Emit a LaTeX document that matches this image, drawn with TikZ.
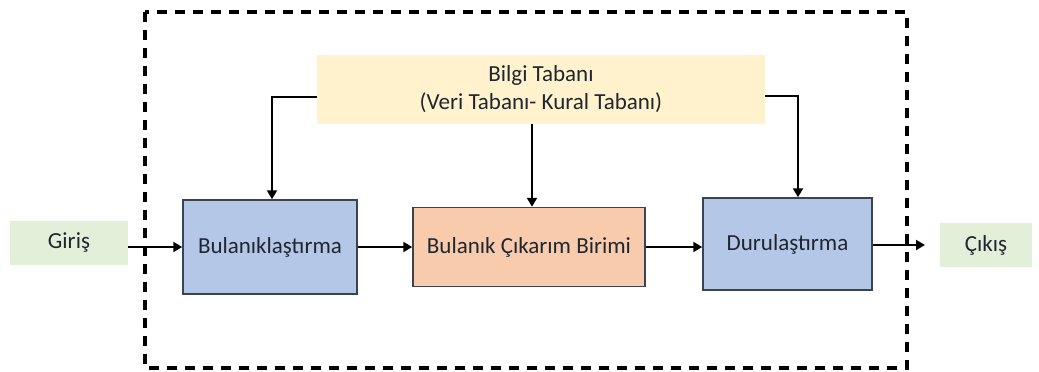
\documentclass[tikz,border=0pt]{standalone}
\usepackage{fontspec}
\setmainfont{Carlito}
\usetikzlibrary{arrows.meta}
\definecolor{kbfill}{HTML}{FFF2CC}
\definecolor{bluefill}{HTML}{B4C7E7}
\definecolor{peachfill}{HTML}{F8CBAD}
\definecolor{greenfill}{HTML}{E2F0D9}
\definecolor{boxline}{HTML}{3B4252}
\definecolor{txt}{HTML}{1F2630}
\begin{document}
\begin{tikzpicture}[x=1pt,y=-1pt,
  every node/.style={font=\fontsize{23}{28}\selectfont, text=txt},
  stage/.style={draw=boxline, line width=1.5pt, inner sep=0pt},
  plain/.style={inner sep=0pt},
  flow/.style={line width=2.6pt, -{Triangle[length=9pt,width=10pt]}},
  frame/.style={line width=3.5pt, dash pattern=on 10pt off 8pt}]
\useasboundingbox (0,0) rectangle (1039,372);
\fill[white] (0,0) rectangle (1039,372);

% system boundary
\draw[frame] (145,12) rectangle (907,368);

% knowledge base
\node[plain, fill=kbfill, minimum width=448pt, minimum height=69pt, align=center] (kb) at (541,89)
  {Bilgi Tabanı\\(Veri Tabanı- Kural Tabanı)};

% processing stages
\node[stage, fill=bluefill, minimum width=174pt, minimum height=94pt] (fuz) at (270,247) {Bulanıklaştırma};
\node[stage, fill=peachfill, minimum width=232pt, minimum height=79pt] (inf) at (529,247) {Bulanık Çıkarım Birimi};
\node[stage, fill=bluefill, minimum width=169pt, minimum height=92pt] (def) at (787.5,244) {Durulaştırma};

% input and output
\node[plain, fill=greenfill, minimum width=118pt, minimum height=44pt] (in) at (69,243) {Giriş};
\node[plain, fill=greenfill, minimum width=92pt, minimum height=44pt] (out) at (986,245) {Çıkış};

% signal flow
\draw[flow] (in.east |- 0,247) -- (fuz.west |- 0,247);
\draw[flow] (fuz.east |- 0,247) -- (inf.west |- 0,247);
\draw[flow] (inf.east |- 0,247) -- (def.west |- 0,247);
\draw[flow] (def.east |- 0,245) -- (925,245) coordinate (outend);

% knowledge base feeds
\draw[flow] (kb.west |- 0,97) -| (272,0 |- fuz.north);
\draw[flow] (532,0 |- kb.south) -- (532,0 |- inf.north);
\draw[flow] (kb.east |- 0,96) -| (798,0 |- def.north);
\end{tikzpicture}
\end{document}
